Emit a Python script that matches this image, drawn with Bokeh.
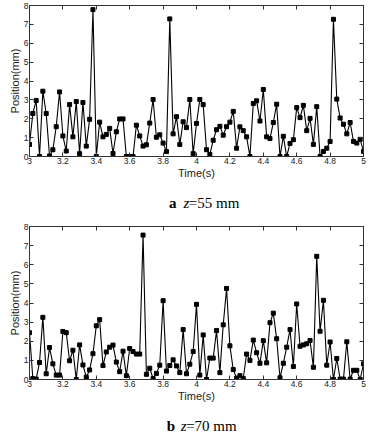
from bokeh.plotting import figure
from bokeh.layouts import column
from bokeh.models import Range1d, FixedTicker, NumeralTickFormatter, LinearAxis
from bokeh.embed import file_html
from bokeh.resources import INLINE
from bokeh.core.properties import value

# ---------------- data ----------------
TIME_S = [
    3.00, 3.02, 3.04, 3.06, 3.08, 3.10, 3.12, 3.14, 3.16, 3.18,
    3.20, 3.22, 3.24, 3.26, 3.28, 3.30, 3.32, 3.34, 3.36, 3.38,
    3.40, 3.42, 3.44, 3.46, 3.48, 3.50, 3.52, 3.54, 3.56, 3.58,
    3.60, 3.62, 3.64, 3.66, 3.68, 3.70, 3.72, 3.74, 3.76, 3.78,
    3.80, 3.82, 3.84, 3.86, 3.88, 3.90, 3.92, 3.94, 3.96, 3.98,
    4.00, 4.02, 4.04, 4.06, 4.08, 4.10, 4.12, 4.14, 4.16, 4.18,
    4.20, 4.22, 4.24, 4.26, 4.28, 4.30, 4.32, 4.34, 4.36, 4.38,
    4.40, 4.42, 4.44, 4.46, 4.48, 4.50, 4.52, 4.54, 4.56, 4.58,
    4.60, 4.62, 4.64, 4.66, 4.68, 4.70, 4.72, 4.74, 4.76, 4.78,
    4.80, 4.82, 4.84, 4.86, 4.88, 4.90, 4.92, 4.94, 4.96, 4.98,
    5.00,
]

# panel a: z = 55 mm
POS_A = [
    0.64, 2.28, 2.97, 0.00, 3.46, 2.28, 0.03, 0.36, 1.58, 3.42,
    1.09, 0.29, 2.75, 1.04, 2.91, 0.15, 2.86, 0.55, 1.97, 7.78,
    0.00, 1.82, 1.04, 1.17, 1.49, 0.16, 1.31, 1.99, 1.99, 0.00,
    0.00, 0.00, 1.66, 1.09, 0.55, 0.62, 1.77, 3.02, 1.02, 1.15,
    0.71, 0.26, 7.29, 1.20, 2.11, 0.64, 1.84, 1.53, 3.02, 0.15,
    1.75, 3.02, 2.75, 0.36, 0.11, 0.86, 1.42, 1.60, 1.13, 1.58,
    1.82, 2.39, 0.44, 1.57, 1.37, 1.04, 0.00, 2.81, 2.95, 1.88,
    3.55, 1.04, 0.95, 1.80, 2.77, 0.00, 1.07, 0.00, 0.69, 0.89,
    2.59, 2.06, 2.71, 1.37, 2.02, 0.64, 2.64, 0.00, 0.27, 0.44,
    0.80, 7.27, 3.04, 2.04, 1.71, 1.20, 1.80, 0.80, 0.71, 0.91,
    0.27,
]

# panel b: z = 70 mm
POS_B = [
    2.45, 0.05, 0.02, 0.89, 3.25, 0.30, 1.67, 0.82, 0.23, 0.23,
    2.51, 2.45, 0.98, 1.53, 0.00, 1.81, 0.76, 0.12, 0.50, 1.35,
    2.81, 3.13, 0.73, 1.44, 1.69, 1.80, 0.91, 0.41, 1.48, 0.20,
    1.62, 1.46, 1.33, 1.33, 7.55, 0.27, 0.59, 0.05, 0.32, 0.75,
    4.12, 0.44, 0.73, 1.03, 0.71, 0.36, 2.61, 0.30, 0.80, 1.46,
    3.93, 0.23, 2.33, 0.00, 1.12, 1.12, 2.56, 0.36, 2.86, 4.76,
    1.76, 0.52, 0.07, 0.20, 0.05, 1.33, 1.00, 2.06, 1.40, 0.85,
    2.03, 0.87, 2.97, 3.47, 2.13, 0.09, 0.85, 1.69, 2.61, 0.68,
    3.95, 1.74, 1.81, 1.87, 2.04, 0.64, 6.44, 2.52, 4.14, 0.75,
    1.96, 0.00, 1.10, 0.02, 0.02, 1.97, 0.02, 0.48, 0.48, 0.00,
    0.82,
]

X_TICKS = [3, 3.2, 3.4, 3.6, 3.8, 4, 4.2, 4.4, 4.6, 4.8, 5]
Y_TICKS = [0, 1, 2, 3, 4, 5, 6, 7, 8]
X_LABEL = "Time(s)"
Y_LABEL = "Position(mm)"
CAPTION_A = ["a", "z", "=55 mm"]
CAPTION_B = ["b", "z", "=70 mm"]

W = 371
SANS = "Liberation Sans"
SERIF = "Liberation Serif"
FRAME = "#333333"
TXT = "#1a1a1a"


def style_axis(ax, ticks, show_labels):
    ax.ticker = FixedTicker(ticks=ticks)
    ax.minor_tick_line_color = None
    ax.major_tick_in = 4
    ax.major_tick_out = 0
    ax.major_tick_line_color = FRAME
    ax.axis_line_color = FRAME
    ax.axis_line_width = 1
    if show_labels:
        ax.formatter = NumeralTickFormatter(format="0.[0]")
        ax.major_label_text_font = SANS
        ax.major_label_text_font_size = "8.5px"
        ax.major_label_text_color = TXT
        ax.major_label_standoff = 1
        ax.axis_label_text_font = SANS
        ax.axis_label_text_font_size = "11px"
        ax.axis_label_text_font_style = "normal"
        ax.axis_label_text_color = TXT
        ax.axis_label_standoff = 0
    else:
        ax.major_label_text_font_size = "1px"
        ax.major_label_text_color = None
        ax.major_label_standoff = 0


def panel(pos, height, b_left, b_right, b_top, b_bottom):
    p = figure(width=W, height=height,
               x_range=Range1d(3, 5), y_range=Range1d(0, 8),
               output_backend="svg", toolbar_location=None,
               x_axis_location=None, y_axis_location=None,
               min_border_left=b_left, min_border_right=b_right,
               min_border_top=b_top, min_border_bottom=b_bottom)
    p.grid.visible = False
    p.outline_line_color = FRAME
    p.outline_line_width = 1

    xb = LinearAxis(axis_label=X_LABEL)
    style_axis(xb, X_TICKS, True)
    p.add_layout(xb, "below")
    yl = LinearAxis(axis_label=Y_LABEL)
    style_axis(yl, Y_TICKS, True)
    p.add_layout(yl, "left")
    xt = LinearAxis()
    style_axis(xt, X_TICKS, False)
    p.add_layout(xt, "above")
    yr = LinearAxis()
    style_axis(yr, Y_TICKS, False)
    p.add_layout(yr, "right")

    p.line(TIME_S, pos, line_color="black", line_width=1.1)
    p.scatter(TIME_S, pos, marker="square", size=4,
              fill_color="black", line_color="black")
    return p


def caption(parts, height, x_positions, y_mid):
    c = figure(width=W, height=height, x_range=Range1d(0, W),
               y_range=Range1d(0, height), output_backend="svg",
               toolbar_location=None, min_border=0,
               x_axis_location=None, y_axis_location=None)
    c.grid.visible = False
    c.outline_line_color = None
    styles = ["bold", "italic", "normal"]
    for txt, xp, st in zip(parts, x_positions, styles):
        c.text(x=[xp], y=[y_mid], text=[txt],
               text_font=value(SERIF), text_font_size=value("15px"),
               text_font_style=st, text_color="black",
               text_baseline="middle", text_align="left")
    return c


pa = panel(POS_A, 186, 29, 7, 5, 30)
ca = caption(CAPTION_A, 30, [155, 171, 177], 14)
pb = panel(POS_B, 188, 26, 8, 10, 23)
cb = caption(CAPTION_B, 32, [152.5, 168, 174], 11)

layout = column(pa, ca, pb, cb, spacing=0)
open("out.html", "w").write(file_html(layout, INLINE))
